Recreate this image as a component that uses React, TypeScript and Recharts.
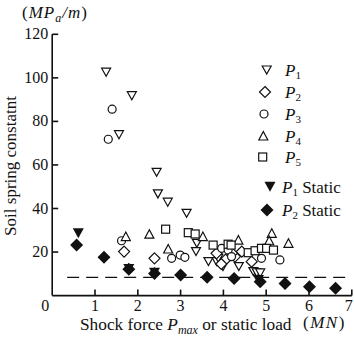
import React from "react";
import { ScatterChart, Scatter, XAxis, YAxis, ReferenceLine } from "recharts";

// shock force (MN) vs soil spring constant (MPa/m)
const p1 = [
  { x: 1.26, y: 102.6 }, { x: 1.86, y: 91.8 }, { x: 1.56, y: 73.9 }, { x: 2.44, y: 56.6 },
  { x: 2.47, y: 46.7 }, { x: 2.7, y: 42.9 }, { x: 3.14, y: 37.8 }, { x: 3.38, y: 24.0 },
  { x: 3.36, y: 20.2 }, { x: 3.65, y: 15.6 }, { x: 3.84, y: 15.6 }, { x: 3.88, y: 17.1 },
  { x: 3.99, y: 13.3 }, { x: 4.36, y: 13.3 }, { x: 4.7, y: 11.0 }, { x: 4.78, y: 10.5 },
  { x: 4.86, y: 10.4 },
];
const p2 = [
  { x: 1.68, y: 20.2 }, { x: 2.39, y: 17.1 }, { x: 3.84, y: 19.4 }, { x: 4.27, y: 17.9 },
  { x: 4.66, y: 15.6 }, { x: 4.43, y: 20.2 }, { x: 4.05, y: 16.5 }, { x: 4.2, y: 19.5 },
  { x: 3.95, y: 14.5 },
];
const p3 = [
  { x: 1.4, y: 85.6 }, { x: 1.31, y: 71.8 }, { x: 1.62, y: 25.2 }, { x: 2.79, y: 17.1 },
  { x: 2.99, y: 18.6 }, { x: 3.1, y: 17.6 }, { x: 3.96, y: 21.7 }, { x: 4.11, y: 20.9 },
  { x: 4.19, y: 17.9 }, { x: 4.89, y: 17.1 }, { x: 5.32, y: 16.4 },
];
const p4 = [
  { x: 1.72, y: 27.1 }, { x: 2.27, y: 28.2 }, { x: 2.71, y: 21.4 }, { x: 3.52, y: 27.1 },
  { x: 4.35, y: 25.5 }, { x: 5.13, y: 28.6 }, { x: 5.07, y: 25.2 }, { x: 5.52, y: 24.0 },
];
const p5 = [
  { x: 2.65, y: 30.5 }, { x: 3.18, y: 28.9 }, { x: 3.34, y: 28.3 }, { x: 3.76, y: 23.2 },
  { x: 4.11, y: 23.6 }, { x: 4.18, y: 23.2 }, { x: 4.58, y: 19.7 }, { x: 4.74, y: 20.6 },
  { x: 4.89, y: 21.7 }, { x: 5.01, y: 21.7 }, { x: 5.17, y: 20.9 },
];
const p1Static = [
  { x: 0.61, y: 28.6 }, { x: 1.79, y: 12.2 }, { x: 2.39, y: 10.5 }, { x: 4.82, y: 7.2 },
];
const p2Static = [
  { x: 0.57, y: 23.2 }, { x: 1.21, y: 17.6 }, { x: 1.79, y: 12.1 }, { x: 2.39, y: 10.2 },
  { x: 3.0, y: 9.5 }, { x: 3.62, y: 8.4 }, { x: 4.25, y: 7.9 }, { x: 4.86, y: 6.4 },
  { x: 5.44, y: 5.6 }, { x: 6.01, y: 4.1 }, { x: 6.62, y: 3.4 },
];
const xTicks = [0, 1, 2, 3, 4, 5, 6, 7];
const yTicks = [20, 40, 60, 80, 100, 120];
const staticLine = [{ x: 0.35, y: 8.4 }, { x: 7, y: 8.4 }];

const font = "'Liberation Serif', 'DejaVu Serif', serif";
const ink = "#111";

type Kind = "down" | "diamond" | "circle" | "up" | "square" | "downFill" | "diamondFill";

function Marker({ kind, cx, cy }: { kind: Kind; cx: number; cy: number }) {
  const sw = 1.2;
  switch (kind) {
    case "down":
      return <path d={`M${cx - 4.5},${cy - 4} L${cx + 4.5},${cy - 4} L${cx},${cy + 4} Z`} fill="#fff" stroke={ink} strokeWidth={sw} />;
    case "up":
      return <path d={`M${cx - 4.5},${cy + 4} L${cx + 4.5},${cy + 4} L${cx},${cy - 4.5} Z`} fill="#fff" stroke={ink} strokeWidth={sw} />;
    case "circle":
      return <circle cx={cx} cy={cy} r={4} fill="#fff" stroke={ink} strokeWidth={sw} />;
    case "square":
      return <rect x={cx - 4} y={cy - 4} width={8} height={8} fill="#fff" stroke={ink} strokeWidth={sw} />;
    case "diamond":
      return <path d={`M${cx},${cy - 5.5} L${cx + 5.5},${cy} L${cx},${cy + 5.5} L${cx - 5.5},${cy} Z`} fill="#fff" stroke={ink} strokeWidth={sw} />;
    case "downFill":
      return <path d={`M${cx - 5.5},${cy - 5} L${cx + 5.5},${cy - 5} L${cx},${cy + 5} Z`} fill={ink} />;
    case "diamondFill":
      return <path d={`M${cx},${cy - 6.5} L${cx + 6.5},${cy} L${cx},${cy + 6.5} L${cx - 6.5},${cy} Z`} fill={ink} />;
  }
  return null;
}

const shapeOf = (kind: Kind) => (props: any) => <Marker kind={kind} cx={props.cx} cy={props.cy} />;

function XTick({ x, y, payload }: any) {
  const axisY = y - 4;
  let tx = x;
  if (payload.value === 0) tx = x - 7;
  if (payload.value === 7) tx = x - 3;
  return (
    <g>
      {payload.value !== 0 && <line x1={x} x2={x} y1={axisY} y2={axisY - 6} stroke={ink} strokeWidth={1.6} />}
      <text x={tx} y={y + 11} textAnchor="middle" fontFamily={font} fontSize={16} fill={ink}>
        {payload.value}
      </text>
    </g>
  );
}

function YTick({ x, y, payload }: any) {
  const axisX = x + 4;
  return (
    <g>
      <line x1={axisX} x2={axisX + 6} y1={y} y2={y} stroke={ink} strokeWidth={1.6} />
      <text x={x} y={y + 5} textAnchor="end" fontFamily={font} fontSize={16} fill={ink}>
        {payload.value}
      </text>
    </g>
  );
}

const legendRows: { kind: Kind; sym: [number, number]; sub: string; rest?: string }[] = [
  { kind: "down", sym: [266.7, 70], sub: "1" },
  { kind: "diamond", sym: [265, 92], sub: "2" },
  { kind: "circle", sym: [264, 114], sub: "3" },
  { kind: "up", sym: [263.3, 136], sub: "4" },
  { kind: "square", sym: [262.7, 157], sub: "5" },
  { kind: "downFill", sym: [270, 186.7], sub: "1", rest: " Static" },
  { kind: "diamondFill", sym: [267, 210], sub: "2", rest: " Static" },
];

export default function App() {
  return (
    <div style={{ position: "absolute", left: 0, top: 0, width: 354, height: 337, background: "#fff" }}>
      <ScatterChart width={354} height={337} margin={{ top: 34.3, right: 2.2, bottom: 11.4, left: 0 }}>
        <XAxis
          type="number"
          dataKey="x"
          domain={[0, 7]}
          ticks={xTicks}
          interval={0}
          height={30}
          tickSize={0}
          tickMargin={4}
          tick={<XTick />}
          axisLine={{ stroke: ink, strokeWidth: 1.6 }}
          allowDataOverflow
        />
        <YAxis
          type="number"
          dataKey="y"
          domain={[0, 120]}
          ticks={yTicks}
          interval={0}
          width={52.2}
          tickSize={0}
          tickMargin={4}
          tick={<YTick />}
          axisLine={{ stroke: ink, strokeWidth: 1.6 }}
          allowDataOverflow
        />
        <ReferenceLine segment={staticLine} stroke={ink} strokeWidth={1.3} strokeDasharray="12 7" ifOverflow="visible" />
        <Scatter data={p1} isAnimationActive={false} shape={shapeOf("down")} />
        <Scatter data={p2} isAnimationActive={false} shape={shapeOf("diamond")} />
        <Scatter data={p3} isAnimationActive={false} shape={shapeOf("circle")} />
        <Scatter data={p4} isAnimationActive={false} shape={shapeOf("up")} />
        <Scatter data={p5} isAnimationActive={false} shape={shapeOf("square")} />
        <Scatter data={p1Static} isAnimationActive={false} shape={shapeOf("downFill")} />
        <Scatter data={p2Static} isAnimationActive={false} shape={shapeOf("diamondFill")} />
      </ScatterChart>
      <svg width={354} height={337} style={{ position: "absolute", left: 0, top: 0, pointerEvents: "none" }}>
        <text x={22} y={18} fontFamily={font} fontSize={17} letterSpacing={1} fill={ink}>
          (<tspan fontStyle="italic">MP</tspan>
          <tspan fontStyle="italic" fontSize={12} dy={4}>a</tspan>
          <tspan fontStyle="italic" dy={-4}>/m</tspan>)
        </text>
        <text
          transform="translate(16,166) rotate(-90)"
          textAnchor="middle"
          fontFamily={font}
          fontSize={17}
          fill={ink}
        >
          Soil spring constatnt
        </text>
        <text x={80} y={330} fontFamily={font} fontSize={17.3} fill={ink}>
          Shock force <tspan fontStyle="italic">P</tspan>
          <tspan fontStyle="italic" fontSize={12} dy={4}>max</tspan>
          <tspan dy={-4}> or static load</tspan>
        </text>
        <text x={303} y={328} fontFamily={font} fontSize={17} letterSpacing={1.5} fill={ink}>
          (<tspan fontStyle="italic">MN</tspan>)
        </text>
        {legendRows.map((r, i) => (
          <g key={i}>
            <Marker kind={r.kind} cx={r.sym[0]} cy={r.sym[1]} />
            <text x={r.rest ? 282 : 285} y={r.sym[1] + 6} fontFamily={font} fontSize={17} fill={ink}>
              <tspan fontStyle="italic">P</tspan>
              <tspan fontSize={11} dy={3}>{r.sub}</tspan>
              {r.rest && <tspan dy={-3}>{r.rest}</tspan>}
            </text>
          </g>
        ))}
      </svg>
    </div>
  );
}
